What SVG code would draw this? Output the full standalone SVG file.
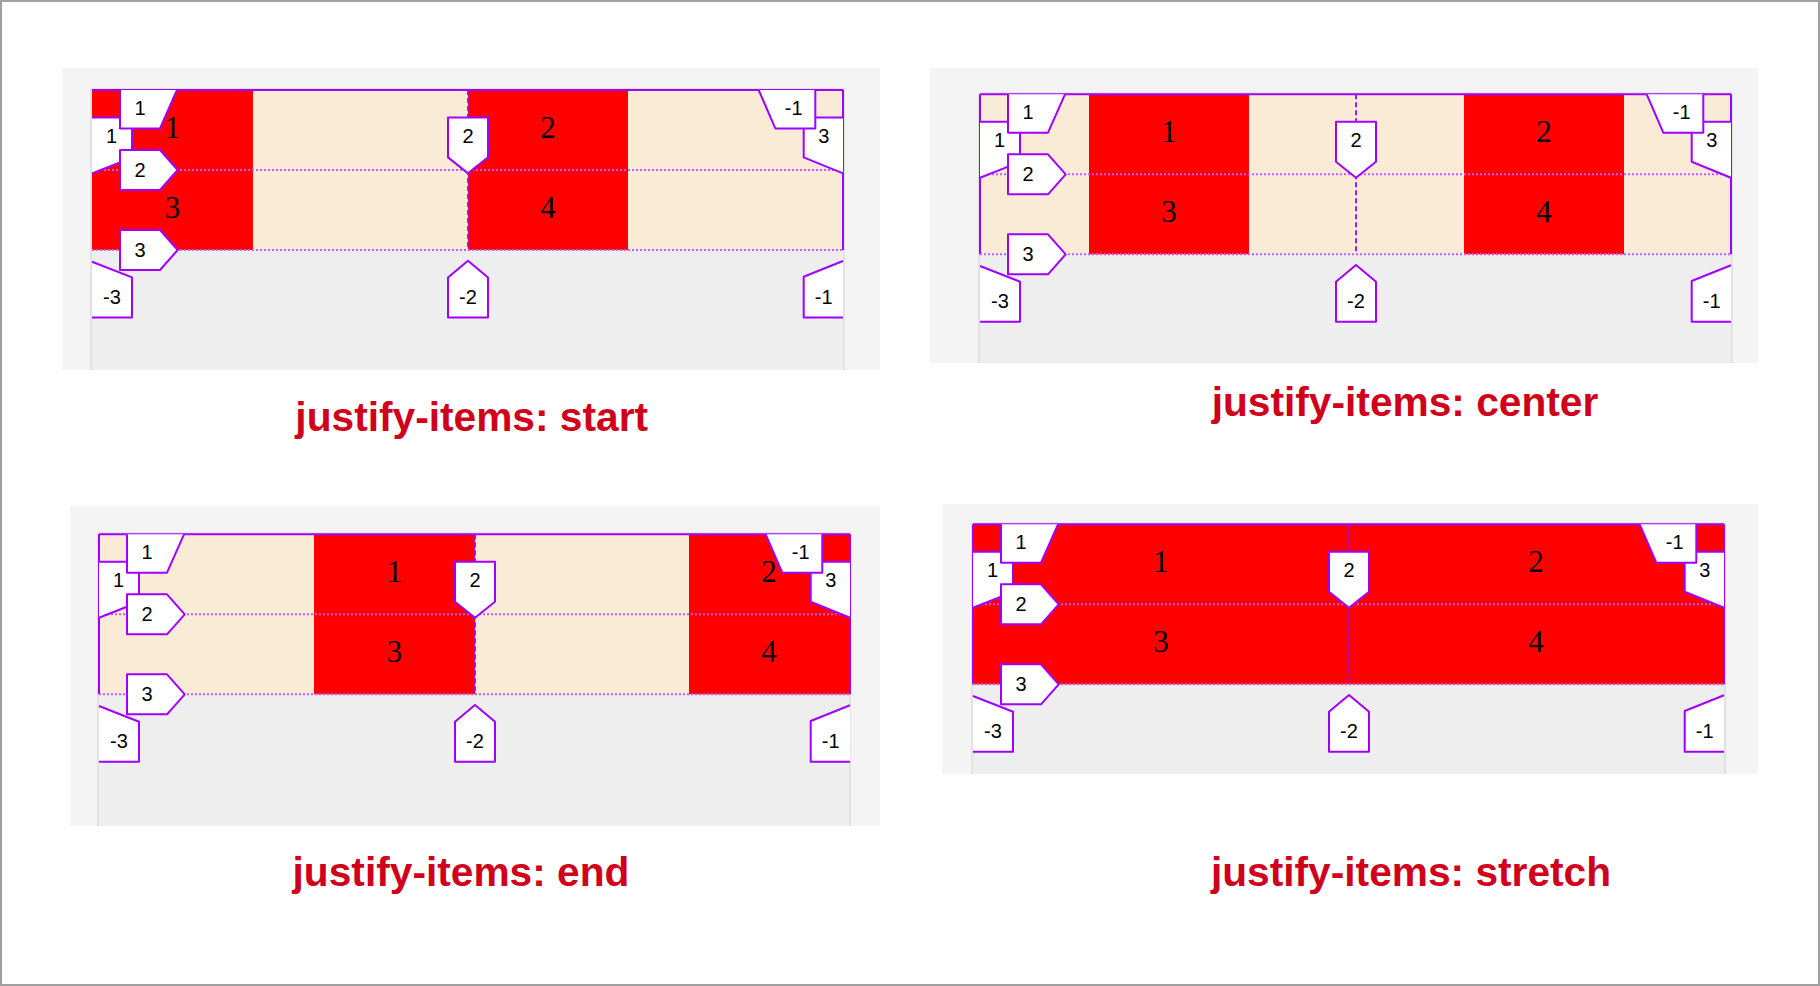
<svg xmlns="http://www.w3.org/2000/svg" xmlns:xlink="http://www.w3.org/1999/xlink" width="1820" height="986" viewBox="0 0 1820 986">
<style>
.bg{fill:#f4f4f4}
.sh{fill:#e2e2e2}
.ct{fill:#eeeeee}
.gr{fill:#faebd7}
.it{fill:#ff0000}
.num{font-family:"Liberation Serif","Times New Roman",serif;font-size:31px;fill:#000;text-anchor:middle}
.bw{fill:#fff}
.bs{fill:none;stroke:#a000ff;stroke-width:2;stroke-linejoin:round}
.bc{fill:#fff;stroke:#a000ff;stroke-width:2;stroke-linejoin:round}
.bt{font-family:"Liberation Sans",Arial,sans-serif;font-size:20px;fill:#000;text-anchor:middle}
.solid{stroke:#a000ff;stroke-width:2;fill:none}
.dot{stroke:#c25cff;stroke-width:2;stroke-dasharray:2 2;fill:none}
.dash{stroke:#a000ff;stroke-width:1.8;stroke-dasharray:5 3;fill:none}
.cap{font-family:"Liberation Sans",Arial,sans-serif;font-size:40.7px;font-weight:bold;fill:#d0021b;text-anchor:middle}
</style>
<defs>
<g id="overlay">
<line x1="0" y1="80" x2="751" y2="80" class="dot"/>
<line x1="0" y1="160" x2="751" y2="160" class="dot"/>
<line x1="376" y1="0" x2="376" y2="160" class="dash"/>
<line x1="0" y1="0" x2="751" y2="0" class="solid"/>
<line x1="751" y1="0" x2="751" y2="160" class="solid"/>
<path class="bw" d="M0,27.5 H40 V67.7 L0,83.4 Z"/>
<polyline class="bs" points="0,27.5 40,27.5 40,67.7 0,83.4"/>
<text class="bt" x="19.5" y="52.9">1</text>
<path class="bw" d="M28,0 H85 L68,38.4 H28 Z"/>
<polyline class="bs" points="28,0 28,38.4 68,38.4 85,0"/>
<text class="bt" x="48" y="24.7">1</text>
<path class="bw" d="M751,27.4 V83.4 L711.7,67.4 V27.4 Z"/>
<polyline class="bs" points="751,83.4 711.7,67.4 711.7,27.4 751,27.4"/>
<text class="bt" x="731.7" y="53.2">3</text>
<path class="bw" d="M666.7,0 H723.3 V38.4 H683.3 Z"/>
<polyline class="bs" points="666.7,0 683.3,38.4 723.3,38.4 723.3,0"/>
<text class="bt" x="701.7" y="24.7">-1</text>
<path class="bc" d="M28,60 H68 L85.7,80 L68,100 H28 Z"/>
<text class="bt" x="48" y="87.2">2</text>
<path class="bc" d="M28,140 H68 L85.7,160 L68,180 H28 Z"/>
<text class="bt" x="48" y="167.2">3</text>
<path class="bw" d="M0,171.7 L40,187.4 V227.4 H0 Z"/>
<polyline class="bs" points="0,171.7 40,187.4 40,227.4 0,227.4"/>
<text class="bt" x="20" y="213.7">-3</text>
<path class="bc" d="M356,27.4 H396 V67.4 L376,83.4 L356,67.4 Z"/>
<text class="bt" x="376" y="53.2">2</text>
<path class="bc" d="M376,170.7 L396,187.4 V227.4 H356 V187.4 Z"/>
<text class="bt" x="376" y="213.7">-2</text>
<path class="bw" d="M751,171 L711.7,186.7 V227.4 H751 Z"/>
<polyline class="bs" points="751,171 711.7,186.7 711.7,227.4 751,227.4"/>
<text class="bt" x="731.7" y="213.7">-1</text>
</g>
</defs>
<rect x="1" y="1" width="1818" height="984" fill="#ffffff" stroke="#a0a0a0" stroke-width="2"/>

<g id="panel-start" transform="translate(92,90)">
<rect class="bg" x="-30" y="-22" width="818" height="302"/>
<rect class="sh" x="-2" y="-2" width="755" height="282"/>
<rect class="ct" x="0" y="0" width="751" height="280"/>
<rect class="gr" x="0" y="0" width="751" height="160"/>
<rect class="it" x="0" y="0" width="161" height="160"/>
<rect class="it" x="376" y="0" width="160" height="160"/>
<text class="num" x="80.5" y="47.5">1</text>
<text class="num" x="456" y="47.5">2</text>
<text class="num" x="80.5" y="127.5">3</text>
<text class="num" x="456" y="127.5">4</text>
<use xlink:href="#overlay" href="#overlay"/>
</g>
<text class="cap" x="471.7" y="430.7">justify-items: start</text>

<g id="panel-center" transform="translate(980,94.3)">
<rect class="bg" x="-50" y="-26.3" width="828" height="295"/>
<rect class="sh" x="-2" y="-2" width="755" height="270.7"/>
<rect class="ct" x="0" y="0" width="751" height="268.7"/>
<rect class="gr" x="0" y="0" width="751" height="160"/>
<rect class="it" x="109" y="0" width="160" height="160"/>
<rect class="it" x="484" y="0" width="160" height="160"/>
<text class="num" x="189" y="47.5">1</text>
<text class="num" x="564" y="47.5">2</text>
<text class="num" x="189" y="127.5">3</text>
<text class="num" x="564" y="127.5">4</text>
<line x1="0" y1="0" x2="0" y2="160" class="solid"/>
<use xlink:href="#overlay" href="#overlay"/>
</g>
<text class="cap" x="1405" y="415.7">justify-items: center</text>

<g id="panel-end" transform="translate(99,534.3)">
<rect class="bg" x="-29" y="-28.3" width="810" height="320"/>
<rect class="sh" x="-2" y="-2" width="754" height="293.7"/>
<rect class="ct" x="0" y="0" width="750" height="291.7"/>
<rect class="gr" x="0" y="0" width="751" height="160"/>
<rect class="it" x="215" y="0" width="161" height="160"/>
<rect class="it" x="590" y="0" width="161" height="160"/>
<text class="num" x="295.5" y="47.5">1</text>
<text class="num" x="670" y="47.5">2</text>
<text class="num" x="295.5" y="127.5">3</text>
<text class="num" x="670" y="127.5">4</text>
<line x1="0" y1="0" x2="0" y2="160" class="solid"/>
<use xlink:href="#overlay" href="#overlay"/>
</g>
<text class="cap" x="461" y="885.7">justify-items: end</text>

<g id="panel-stretch" transform="translate(973,524.3)">
<rect class="bg" x="-31" y="-20.3" width="816" height="270"/>
<rect class="sh" x="-2" y="-2" width="755" height="251.7"/>
<rect class="ct" x="0" y="0" width="751" height="249.7"/>
<rect class="it" x="0" y="0" width="751" height="160"/>
<text class="num" x="188" y="47.5">1</text>
<text class="num" x="563" y="47.5">2</text>
<text class="num" x="188" y="127.5">3</text>
<text class="num" x="563" y="127.5">4</text>
<line x1="0" y1="0" x2="0" y2="160" class="solid"/>
<use xlink:href="#overlay" href="#overlay"/>
</g>
<text class="cap" x="1411" y="885.7">justify-items: stretch</text>
</svg>
